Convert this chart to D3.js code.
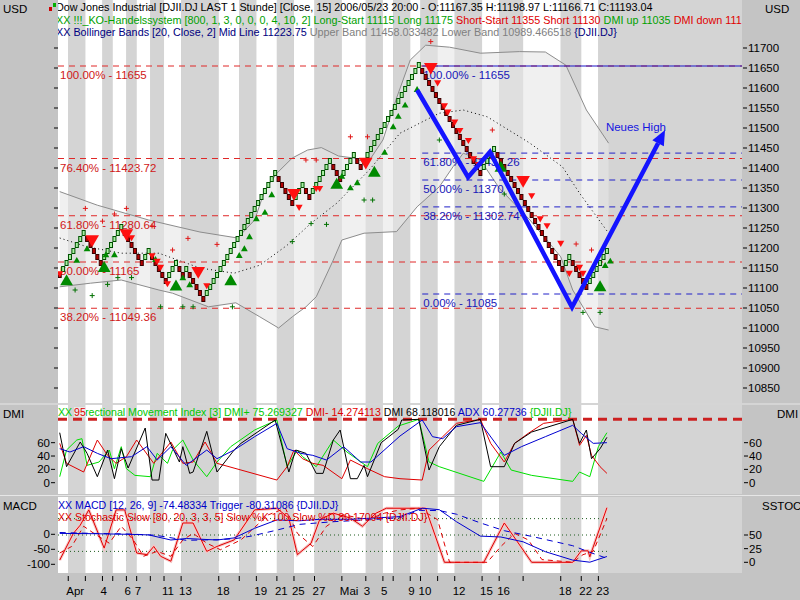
<!DOCTYPE html>
<meta charset="utf-8">
<title>DJII.DJ Renko 15</title>
<script src="https://cdn.jsdelivr.net/npm/d3@7"></script>
<style>
  body { margin: 0; background: #c4c4c4; }
  text { font-family: "Liberation Sans", Arial, sans-serif; font-size: 11.5px; }
  text.hdr { font-size: 10.8px; }
  text.sub { font-size: 10.6px; }
</style>
<body>
<script>

// ---- data ----
// renko bricks (box 15): signed run lengths
var startOpen = 11140, boxSize = 15;
var runs = [-1, 7, -5, 6, -6, 2, -5, 3, -2, 1, -5, 21, -5, 3, -2, 6, -3, 4, -2, 17, -18, 4, -20, 2, -5, 6];

// first brick of each trading day + label
var dayStarts = [3, 8, 13, 16, 20, 23, 27, 31, 36, 47, 53, 58, 64, 69, 75, 83, 90, 95, 98, 103, 106, 111, 116, 124, 129, 136, 147, 153, 158];
var dayLabels = ["Apr", "", "4", "", "6", "7", "", "11", "13", "18", "", "19", "21", "25", "27", "Mai", "3", "5", "", "9", "10", "", "12", "15", "16", "", "18", "22", "23"];

// bollinger bands [brick, price]
var bbUpper = [[0,11341],[11,11307],[26,11270],[41,11240],[52,11225],[57,11270],[60,11345],[63.5,11387],[68,11425],[72.5,11445],[76.5,11451],[81.5,11430],[86,11425],[90,11412],[94.5,11470],[98.5,11575],[102.5,11670],[107,11707],[114,11702],[123,11687],[134.5,11691],[142,11690],[148,11657],[154,11545],[160.5,11462]];
var bbLower = [[0,11103],[9,11112],[18,11120],[29,11095],[33,11087],[43.5,11053],[51.5,11063],[58.5,11028],[64,11000],[68,11028],[72,11053],[75,11078],[80,11170],[82.5,11220],[89,11237],[98.5,11241],[104.5,11303],[111,11353],[115,11403],[118,11437],[123,11420],[128.5,11350],[137.5,11270],[146.5,11178],[150,11095],[156.5,11003],[160.5,10995]];
var bbMid = [[0,11225],[8,11203],[18,11187],[29,11187],[41,11150],[51,11137],[58.5,11157],[66.5,11207],[73.5,11262],[81,11312],[90.5,11395],[99.5,11487],[111,11537],[118,11545],[125,11528],[134.5,11478],[137.5,11462],[147,11403],[152,11337],[160.5,11237]];

// fibonacci retracements
var fibRedPct = ["100.00%", "76.40%", "61.80%", "50.00%", "38.20%"];
var fibRedVal = [11655, 11423.72, 11280.64, 11165, 11049.36];
var fibBluePct = ["100.00%", "61.80%", "50.00%", "38.20%", "0.00%"];
var fibBlueVal = [11655, 11437.26, 11370, 11302.74, 11085];
var fibBlueStart = 106;

// trading system signals [brick, price]
var longStart = [[2,11116],[13,11149],[34,11103],[50,11116],[81,11357],[92,11387],[129,11400],[158,11101]];
var longSig = [[5,11168],[8,11197],[13.5,11182],[16,11182],[28,11170],[36,11124],[38,11107],[52.5,11180],[54,11197],[55.5,11227],[57.5,11272],[60,11288],[62,11332],[82.5,11378],[85,11349],[87,11362],[95,11438],[97.5,11502],[99,11528],[101,11556],[104.5,11595],[159.5,11155],[161,11166]];
var shortStart = [[9.5,11222],[19.5,11237],[40.5,11143],[68.5,11338],[89.5,11416],[108.5,11653],[135.5,11370]];
var shortSig = [[0,11137],[21,11227],[27,11182],[28.5,11168],[29.5,11153],[31.5,11112],[43,11107],[70,11303],[75,11350],[76,11350],[110.5,11614],[112.5,11557],[113.5,11541],[115.5,11516],[117,11495],[119.5,11470],[121,11424],[122.5,11410],[138,11332],[140.5,11274],[142.5,11257],[146.5,11213],[149,11138],[152,11153],[153,11138]];
var dmiUpMarks = [[7.5,11299],[12.5,11267],[16,11285],[19.5,11299],[27,11255],[33,11195],[37.5,11224],[46,11209],[72,11420],[75,11420],[85,11478],[90,11478],[108.5,11716],[126.5,11495],[151,11210],[155.5,11195]];
var dmiDownMarks = [[4.5,11095],[9.5,11081],[14,11109],[17,11126],[21,11126],[29.5,11053],[36,11053],[39,11053],[50.5,11053],[68,11216],[73.5,11261],[78,11259],[89,11320],[91.5,11320],[111,11470],[130,11335],[153,11039],[158,11039]];

// hand drawn projection
var projection = [[104.5,11595],[119.4,11377],[125.8,11440],[149.8,11052],[177,11495]];
var projNote = [159.7, 11492, "Neues High"];

// DMI panel
var dmiPlus = [[0,9],[2,49],[5,64],[6.5,66],[8,26],[11.5,31],[14.5,49],[16,21],[18,54],[19.5,21],[22,11],[26.5,9],[28.5,44],[31.5,29],[33,49],[36,64],[39,34],[43,9],[46,31],[50,54],[57,79],[63.5,94],[66.5,24],[69.5,49],[71,39],[75,24],[80,64],[84,46],[90,24],[93,59],[99,85],[105,95],[108,31],[111,24],[124,2],[129,46],[132,19],[138,11],[150,2],[152,16],[155,9],[157.5,54],[160,75]];
var dmiMinus = [[0,59],[2,29],[7,16],[11,64],[14,41],[16.5,29],[19.5,39],[22.5,64],[27.5,29],[32.5,61],[36,29],[39,31],[42.5,61],[46,29],[53,19],[63.5,4],[66.5,24],[68.5,49],[71,36],[74,29],[77,26],[82.5,6],[85,34],[90,21],[95,9],[99.5,6],[106,4],[108,49],[112,69],[116,89],[123,95],[126,59],[130,31],[133,59],[137,74],[141.5,89],[150,95],[152,56],[154,71],[155.5,41],[158,24],[160,14]];
var dmiDx = [[0,75],[2,24],[6,61],[8,44],[11,9],[14,49],[16,6],[18,51],[20,22],[25,82],[27,4],[29,4],[31,74],[35,31],[36,54],[38,14],[39,16],[43,77],[46,16],[51,49],[53,59],[63,94],[67,16],[69,49],[72,44],[75,14],[77,14],[80,64],[82,79],[85,6],[87,6],[89,26],[90,9],[94,60],[99,80],[100,94],[105,95],[108,19],[111,54],[116,86],[123,95],[126,24],[130,24],[133,59],[138,76],[150,95],[152,59],[154,79],[155.5,36],[158,51],[160,68]];
var dmiAdx = [[0,51],[3,46],[7,54],[11,44],[15,36],[21,39],[25.5,54],[28.5,34],[32.5,54],[37,26],[43,49],[46,36],[51,49],[57,69],[63.5,89],[66.5,51],[70.5,44],[74,41],[78,34],[83,54],[88,31],[91,31],[99.5,70],[106,94],[109,69],[112,66],[116,84],[123,90],[130,41],[135,54],[142,69],[150,86],[152.5,74],[156,59],[160,60]];
var dmiLevel = 95;
var dmiTicks = [0, 20, 40, 60];

// MACD / slow stochastic panel
var macd = [[0,3],[10,2],[20,0],[26,-2],[32.5,-19],[37,-14],[46,-19],[51,-12],[57,20],[63.5,48],[70,45],[76,50],[85,50],[99.5,59],[106,87],[111,82],[116,42],[123,-6],[129,-9],[135.5,-25],[142,-58],[150,-86],[155,-93],[160,-74]];
var trigger = [[0,6],[10,3],[20,1],[28,-3],[37,-20],[46,-18],[51,-15],[56,-6],[63.5,14],[70,33],[80,42],[90,48],[99.5,55],[105,80],[111,79],[116,67],[123,38],[130,12],[138,-7],[150,-38],[155,-60],[160,-80]];
var slowK = [[0,4],[4,53],[6,68],[8.5,96],[13,26],[16.5,96],[19,96],[22.5,17],[25.5,14],[27.5,29],[29.5,11],[32.5,2],[36,72],[39,72],[43,20],[46,29],[51,41],[57,96],[63.5,99],[67,81],[69.5,14],[73.5,35],[76,78],[80,90],[85,81],[88.5,66],[92.5,90],[95.5,99],[107,99],[112.5,0],[124,0],[130,72],[138,0],[150,0],[152.5,21],[154.5,21],[155,10],[160,100]];
var slowD = [[0,17],[3.5,29],[7,66],[10,53],[14.5,35],[18,66],[21.5,41],[24.5,11],[28.5,20],[32.5,11],[36,41],[39,53],[43,35],[47,23],[53,41],[61,87],[66,99],[69.5,53],[74,29],[78,66],[83,87],[90,78],[95,90],[99.5,96],[105,99],[110.5,78],[114,0],[125,0],[129,29],[133,53],[137,41],[141,5],[150,0],[153,14],[156,20],[160,80]];
var stochLevels = [20, 50, 80];
var macdTicks = [0, -50, -100];
var stochTicks = [50, 25, 0];

// header / legend texts
var green = "#00a000", red = "#e00000", navy = "#000080", gray = "#808080";
var hdr1 = [["Dow Jones Industrial [DJII.DJ LAST 1 Stunde] [Close, 15] 2006/05/23 20:00 - O:11167.35 H:11198.97 L:11166.71 C:11193.04", "#000"]];
var hdr2 = [["XX !!!_KO-Handelssystem [800, 1, 3, 0, 0, 0, 4, 10, 2] Long-Start 11115 Long 11175 ", green], ["Short-Start 11355 Short 11130 ", red], ["DMI up 11035 ", green], ["DMI down 111", red]];
var hdr3 = [["XX Bollinger Bands [20, Close, 2] Mid Line 11223.75 ", navy], ["Upper Band 11458.033482 Lower Band 10989.466518 ", gray], ["{DJII.DJ}", navy]];
var hdrDmi = [["XX Directional Movement Index [3] DMI+ 75.269327 ", "#00c800"], ["DMI- 14.274113 ", red], ["DMI 68.118016 ", "#000"], ["ADX 60.27736 ", "#0000c8"], ["{DJII.DJ}", "#00c800"]];
var hdrMacd = [["XX MACD [12, 26, 9] -74.48334 Trigger -80.31086 {DJII.DJ}", "#0000c8"]];
var hdrStoch = [["XX Stochastic Slow [80, 20, 3, 3, 5] Slow %K 100 Slow %D 80.17094 {DJII.DJ}", red]];

// ---- layout ----
var W = 800, H = 600, left = 58, right = 742;
var mainP = [0, 403], dmiP = [405, 494], macdP = [497, 573];

var svg = d3.select("body").append("svg")
    .attr("width", W)
    .attr("height", H);

svg.append("rect").attr("width", W).attr("height", H).attr("fill", "#c4c4c4");

var x = d3.scaleLinear().domain([-0.5, 199.5]).range([left, right]);
var y = d3.scaleLinear().domain([10850, 11700]).range([388, 48]);
var yDmi = d3.scaleLinear().domain([0, 100]).range([482.7, 416]);
var yMacd = d3.scaleLinear().domain([-100, 0]).range([564.3, 534.3]);
var ySto = d3.scaleLinear().domain([0, 50]).range([562.3, 535]);

// day stripes
var bounds = [-0.5].concat(dayStarts.map(function (d) { return d - 0.5; })).concat([199.5]);
var segs = d3.range(bounds.length - 1).map(function (k) {
  return { a: bounds[k], b: bounds[k + 1], white: k % 2 === 0 };
});

function panel(p, id) {
  svg.append("clipPath").attr("id", id)
    .append("rect").attr("x", left).attr("y", p[0]).attr("width", right - left).attr("height", p[1] - p[0]);
  var g = svg.append("g").attr("clip-path", "url(#" + id + ")");
  g.selectAll("rect.day").data(segs).enter().append("rect")
    .attr("class", "day")
    .attr("x", function (d) { return x(d.a); })
    .attr("width", function (d) { return x(d.b) - x(d.a); })
    .attr("y", p[0]).attr("height", p[1] - p[0])
    .attr("fill", function (d) { return d.white ? "#ffffff" : "#d4d4d4"; });
  return g;
}

var gMain = panel(mainP, "cMain");
var gDmi = panel(dmiP, "cDmi");
var gMacd = panel(macdP, "cMacd");

svg.append("line").attr("x1", 0).attr("x2", W).attr("y1", 404).attr("y2", 404).attr("stroke", "#e6e6e6");
svg.append("line").attr("x1", 0).attr("x2", W).attr("y1", 495.5).attr("y2", 495.5).attr("stroke", "#e6e6e6");

// ---- main panel ----
var line = d3.line().x(function (d) { return x(d[0]); }).y(function (d) { return y(d[1]); });

gMain.append("path")
  .attr("d", line(bbUpper.concat(bbLower.slice().reverse())) + "Z")
  .attr("fill", "#e6e6e6").attr("fill-opacity", 0.6);
[bbUpper, bbLower].forEach(function (s) {
  gMain.append("path").attr("d", line(s)).attr("fill", "none").attr("stroke", "#8c8c8c");
});
gMain.append("path").attr("d", line(bbMid)).attr("fill", "none")
  .attr("stroke", "#000").attr("stroke-dasharray", "1,3");

// fib lines
fibRedVal.forEach(function (v, k) {
  gMain.append("line").attr("x1", left).attr("x2", right).attr("y1", y(v)).attr("y2", y(v))
    .attr("stroke", "#e02828").attr("stroke-dasharray", "6,5");
  gMain.append("text").attr("x", left + 2).attr("y", y(v) + 13).attr("fill", "#d01818")
    .text(fibRedPct[k] + " - " + v);
});
fibBlueVal.forEach(function (v, k) {
  gMain.append("line").attr("x1", x(fibBlueStart)).attr("x2", right).attr("y1", y(v)).attr("y2", y(v))
    .attr("stroke", k === 0 ? "#1818c8" : "#2020c8").attr("stroke-dasharray", k === 0 ? null : "6,5");
  gMain.append("text").attr("x", x(fibBlueStart) + 1).attr("y", y(v) + 13).attr("fill", "#1818b8")
    .text(fibBluePct[k] + " - " + v);
});

// bricks
var bricks = [];
var open = startOpen, close = startOpen, dir = 0;
runs.forEach(function (r) {
  var s = r > 0 ? 1 : -1;
  for (var j = 0; j < Math.abs(r); j++) {
    var o = (dir !== 0 && s !== dir && j === 0) ? open : close;
    bricks.push({ i: bricks.length, open: o, close: o + s * boxSize, up: s > 0 });
    open = o; close = o + s * boxSize; dir = s;
  }
});

gMain.selectAll("rect.brick").data(bricks).enter().append("rect")
  .attr("class", "brick")
  .attr("x", function (d) { return x(d.i) - 1.5; })
  .attr("width", 3)
  .attr("y", function (d) { return y(Math.max(d.open, d.close)) + 0.5; })
  .attr("height", function (d) { return Math.abs(y(d.open) - y(d.close)) - 1; })
  .attr("fill", function (d) { return d.up ? "#a6f0a0" : "#b40000"; })
  .attr("stroke", function (d) { return d.up ? "#005000" : "#380000"; })
  .attr("stroke-width", 1);

// signals
function marks(data, size, color, down) {
  gMain.selectAll(null).data(data).enter().append("path")
    .attr("d", d3.symbol(d3.symbolTriangle, size))
    .attr("transform", function (d) {
      return "translate(" + x(d[0]) + "," + y(d[1]) + ")" + (down ? " rotate(180)" : "");
    })
    .attr("fill", color);
}
marks(longStart, 70, "#008a00", false);
marks(longSig, 20, "#008a00", false);
marks(shortStart, 80, "#ff1010", true);
marks(shortSig, 22, "#ff1010", true);

function plus(data, color) {
  gMain.selectAll(null).data(data).enter().append("path")
    .attr("d", "M-2.5,0H2.5M0,-2.5V2.5")
    .attr("transform", function (d) { return "translate(" + x(d[0]) + "," + y(d[1]) + ")"; })
    .attr("stroke", color).attr("fill", "none");
}
plus(dmiUpMarks, "#e01818");
plus(dmiDownMarks, "#007000");

// projection arrow
var pEnd = projection[projection.length - 1], pPrev = projection[projection.length - 2];
var ex = x(pEnd[0]), ey = y(pEnd[1]);
var ang = Math.atan2(ey - y(pPrev[1]), ex - x(pPrev[0]));
var head = 15, half = 6.5;
var bx = ex - head * Math.cos(ang), by = ey - head * Math.sin(ang);
var shaft = projection.slice(0, -1).map(function (d) { return [x(d[0]), y(d[1])]; }).concat([[bx, by]]);
gMain.append("path").attr("d", d3.line()(shaft)).attr("fill", "none")
  .attr("stroke", "#1414ff").attr("stroke-width", 4.5).attr("stroke-linejoin", "miter");
gMain.append("path")
  .attr("d", d3.line()([[ex, ey],
    [bx + half * Math.sin(ang), by - half * Math.cos(ang)],
    [bx - half * Math.sin(ang), by + half * Math.cos(ang)]]) + "Z")
  .attr("fill", "#1414ff");
gMain.append("text").attr("x", x(projNote[0])).attr("y", y(projNote[1]))
  .attr("fill", "#1414e0").text(projNote[2]);

// header lines
function header(g, rows, x0, y0, dy, cls) {
  rows.forEach(function (row, k) {
    var t = g.append("text").attr("class", cls).attr("x", x0).attr("y", y0 + k * dy)
      .attr("xml:space", "preserve");
    row.forEach(function (s) { t.append("tspan").attr("fill", s[1]).text(s[0]); });
  });
}
header(gMain, [hdr1, hdr2, hdr3], left - 2, 11, 12.7, "hdr");
svg.append("rect").attr("x", 49).attr("y", 7).attr("width", 3).attr("height", 4).attr("fill", "#d00000");
svg.append("rect").attr("x", 53).attr("y", 3).attr("width", 3).attr("height", 4).attr("fill", "#00b000");

// ---- DMI panel ----
var lineDmi = d3.line().x(function (d) { return x(d[0]); }).y(function (d) { return yDmi(d[1]); });
gDmi.append("line").attr("x1", left).attr("x2", right).attr("y1", yDmi(dmiLevel)).attr("y2", yDmi(dmiLevel))
  .attr("stroke", "#cc2020").attr("stroke-width", 3).attr("stroke-dasharray", "9,6");
[[dmiPlus, "#00e000"], [dmiMinus, "#e00000"], [dmiDx, "#000000"], [dmiAdx, "#0000d0"]].forEach(function (s) {
  gDmi.append("path").attr("d", lineDmi(s[0])).attr("fill", "none").attr("stroke", s[1]);
});
header(gDmi, [hdrDmi], left, 416, 0, "sub");
// level label painted over the legend, as in the source program
gDmi.append("rect").attr("x", 74).attr("y", 407).attr("width", 12).attr("height", 10).attr("fill", "#e8e8e8");
gDmi.append("text").attr("class", "sub").attr("x", 74).attr("y", 416).attr("fill", "#e00000").text(dmiLevel);

// ---- MACD panel ----
var lineMacd = d3.line().x(function (d) { return x(d[0]); }).y(function (d) { return yMacd(d[1]); });
var lineSto = d3.line().x(function (d) { return x(d[0]); }).y(function (d) { return ySto(d[1]); });
stochLevels.forEach(function (v) {
  gMacd.append("line").attr("x1", x(-0.5)).attr("x2", x(160)).attr("y1", ySto(v)).attr("y2", ySto(v))
    .attr("stroke", "#1d5a1d").attr("stroke-dasharray", "1,3");
});
gMacd.append("path").attr("d", lineSto(slowK)).attr("fill", "none").attr("stroke", "#f6c4c4").attr("stroke-width", 3);
gMacd.append("path").attr("d", lineSto(slowK)).attr("fill", "none").attr("stroke", "#e00000");
gMacd.append("path").attr("d", lineSto(slowD)).attr("fill", "none").attr("stroke", "#e00000").attr("stroke-dasharray", "5,4");
gMacd.append("path").attr("d", lineMacd(macd)).attr("fill", "none").attr("stroke", "#0000d0");
gMacd.append("path").attr("d", lineMacd(trigger)).attr("fill", "none").attr("stroke", "#0000d0").attr("stroke-dasharray", "6,5");
header(gMacd, [hdrMacd, hdrStoch], left, 509, 12, "sub");

// ---- axes ----
var ax = svg.append("g");
d3.range(10850, 11701, 50).forEach(function (v) {
  ax.append("line").attr("x1", right + 1).attr("x2", right + 5).attr("y1", y(v)).attr("y2", y(v)).attr("stroke", "#000");
  ax.append("line").attr("x1", left - 4).attr("x2", left).attr("y1", y(v)).attr("y2", y(v)).attr("stroke", "#000");
  ax.append("text").attr("x", right + 6).attr("y", y(v) + 4).text(v);
});

function sideTicks(scale, ticksL, ticksR) {
  ticksL.forEach(function (v) {
    ax.append("line").attr("x1", 51).attr("x2", 55).attr("y1", scale[0](v)).attr("y2", scale[0](v)).attr("stroke", "#000");
    ax.append("text").attr("x", 50).attr("y", scale[0](v) + 4).attr("text-anchor", "end").text(v);
  });
  ticksR.forEach(function (v) {
    ax.append("line").attr("x1", right + 2).attr("x2", right + 6).attr("y1", scale[1](v)).attr("y2", scale[1](v)).attr("stroke", "#000");
    ax.append("text").attr("x", right + 7).attr("y", scale[1](v) + 4).text(v);
  });
}
sideTicks([yDmi, yDmi], dmiTicks.slice().reverse(), dmiTicks.slice().reverse());
sideTicks([yMacd, ySto], macdTicks, stochTicks);

// day axis
dayStarts.forEach(function (d, k) {
  var px = x(d - 0.5);
  ax.append("line").attr("x1", px).attr("x2", px).attr("y1", 576).attr("y2", 581).attr("stroke", "#000");
  if (dayLabels[k]) ax.append("text").attr("x", px - 2).attr("y", 595).text(dayLabels[k]);
});

// panel titles
[["USD", 3, 13], ["DMI", 3, 418], ["MACD", 3, 510], ["USD", 765, 13], ["DMI", 777, 418], ["SSTOC", 762, 510]]
  .forEach(function (t) { ax.append("text").attr("x", t[1]).attr("y", t[2]).text(t[0]); });

</script>
